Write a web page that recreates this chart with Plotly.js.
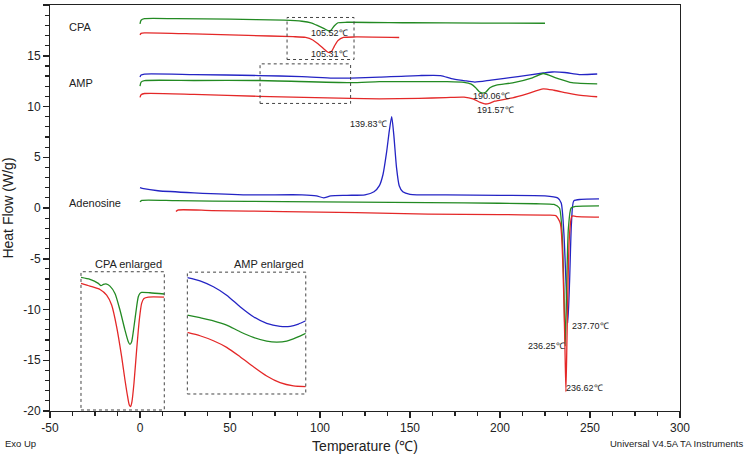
<!DOCTYPE html>
<html>
<head>
<meta charset="utf-8">
<script src="https://cdn.plot.ly/plotly-3.0.1.min.js"></script>
<style>html,body{margin:0;padding:0;background:#fff;}#chart{width:746px;height:454px;}</style>
</head>
<body>
<div id="chart"></div>
<script>
// ---------- Main chart data (Temperature in °C, Heat Flow in W/g) ----------
// CPA
const cpaGreenT = [0, 0.6, 2.5, 20, 50, 80, 90, 95, 99, 102, 104.5, 105.5, 106.5, 108, 110, 115, 150, 190, 225];
const cpaGreenV = [18.15, 18.5, 18.65, 18.65, 18.6, 18.5, 18.4, 18.25, 17.95, 17.7, 17.47, 17.42, 17.6, 17.95, 18.25, 18.3, 18.25, 18.22, 18.2];
const cpaRedT = [0, 0.6, 2.5, 30, 60, 85, 92, 96, 99, 102, 104, 105.3, 106.5, 108, 110, 113, 120, 144];
const cpaRedV = [17.05, 17.2, 17.25, 17.15, 17.0, 16.88, 16.8, 16.55, 16.15, 15.7, 15.4, 15.3, 15.45, 15.95, 16.5, 16.8, 16.85, 16.8];
// AMP
const ampBlueT = [0, 0.6, 2.5, 30, 66, 90, 107, 117, 133, 155, 167, 173, 180, 186, 195, 210, 224, 229, 236, 244, 254];
const ampBlueV = [12.9, 13.1, 13.2, 13.15, 13.05, 12.95, 12.8, 12.8, 12.9, 13.05, 13.05, 12.75, 12.55, 12.4, 12.6, 12.95, 13.3, 13.4, 13.35, 13.15, 13.2];
const ampGreenT = [0, 0.6, 2.5, 30, 66, 117, 133, 155, 170, 180, 184, 186.5, 188.5, 190.06, 192, 194.4, 198, 207, 218, 224, 231, 240, 254];
const ampGreenV = [12.0, 12.4, 12.55, 12.56, 12.56, 12.35, 12.45, 12.46, 12.45, 12.38, 12.2, 11.85, 11.45, 11.33, 11.4, 11.85, 12.1, 12.33, 12.83, 13.25, 12.83, 12.35, 12.23];
const ampRedT = [0, 0.6, 2.5, 30, 66, 117, 133, 155, 170, 180, 185, 189, 191.57, 194, 197, 207, 215, 224, 230, 237, 245, 254];
const ampRedV = [10.9, 11.15, 11.28, 11.2, 11.0, 10.8, 10.76, 10.8, 10.88, 10.92, 10.75, 10.4, 10.25, 10.3, 10.52, 10.86, 11.25, 11.74, 11.6, 11.35, 11.1, 10.96];
// Adenosine
const adnBlueT = [0, 2, 10, 30, 60, 90, 98, 102, 106, 115, 125, 130, 133, 135, 137, 138.5, 139.83, 141, 142.5, 144, 146, 150, 170, 200, 225, 232, 234, 235.5, 236.7, 237.7, 238.7, 239.7, 241, 245, 255];
const adnBlueV = [2.0, 1.9, 1.7, 1.5, 1.3, 1.3, 1.2, 1.0, 1.2, 1.25, 1.3, 1.6, 2.2, 3.3, 5.5, 7.6, 9.0, 7.2, 4.0, 2.2, 1.6, 1.35, 1.3, 1.25, 1.2, 1.0, 0.5, -2.5, -7.5, -11.3, -7.0, -1.5, 0.7, 0.85, 0.9];
const adnGreenT = [0, 1, 20, 60, 100, 140, 180, 220, 230, 233, 234.5, 235.5, 236.25, 237, 238, 239.5, 242, 255];
const adnGreenV = [0.6, 0.75, 0.72, 0.65, 0.6, 0.55, 0.5, 0.42, 0.35, 0.0, -2.5, -8, -13.6, -8, -2, 0.0, 0.15, 0.2];
const adnRedT = [20, 21, 40, 80, 120, 160, 200, 225, 231, 233.5, 235, 236, 236.62, 237.3, 238.5, 240, 243, 255];
const adnRedV = [-0.35, -0.2, -0.25, -0.35, -0.45, -0.6, -0.65, -0.7, -0.75, -1.5, -6, -13, -18.1, -12, -3, -0.8, -0.85, -0.9];

// ---------- Inset data (normalized 0-100 within each enlarged box) ----------
const cpaInsGreenX = [0, 10.8, 20.8, 24, 26.8, 30.8, 34.8, 40.8, 46.8, 52.8, 56.8, 58.8, 60.8, 63.6, 66.8, 68.8, 70.8, 72.8, 82.8, 100];
const cpaInsGreenY = [95.9, 94.5, 91.6, 89.9, 90.8, 91.1, 89.6, 84.3, 72.3, 57.8, 49.4, 47.5, 49.4, 60.2, 74.7, 81.9, 84.3, 85.1, 84.8, 83.9];
const cpaInsRedX = [0, 10.8, 22.8, 30.8, 36.8, 42.8, 48.8, 52.8, 56, 58, 59.6, 61.2, 63.6, 66.8, 70, 72.8, 75.6, 80.8, 100];
const cpaInsRedY = [91.6, 89.6, 87.2, 83.1, 75.9, 60.2, 38.6, 21.7, 9.6, 3.6, 2.4, 6.0, 19.3, 43.4, 65.1, 77.1, 80.7, 81.7, 81.7];
const ampInsX = [0, 10.7, 22, 33.2, 44.5, 55.8, 67, 78.3, 86.8, 93.8, 100];
const ampInsBlueY = [95.6, 92.9, 88, 81.1, 71.6, 63.4, 57.9, 55.5, 55.5, 57.4, 60.1];
const ampInsGreenX = [0, 10.7, 22, 33.2, 44.5, 55.8, 67, 75.5, 83.9, 92.4, 100];
const ampInsGreenY = [64.8, 62.6, 60.1, 56.6, 51.1, 46.4, 43.4, 42.6, 43.4, 46.4, 49.7];
const ampInsRedX = [0, 10.7, 22, 33.2, 44.5, 55.8, 67, 78.3, 89.6, 100];
const ampInsRedY = [50.5, 47.8, 43.7, 38.3, 30.6, 22.4, 14.8, 9.3, 6.6, 6.0];

// ---------- Tick labels ----------
const xTickVals = [-50, 0, 50, 100, 150, 200, 250, 300];
const xTickText = ["-50", "0", "50", "100", "150", "200", "250", "300"];
const yTickVals = [-20, -15, -10, -5, 0, 5, 10, 15, 20];
const yTickText = ["-20", "-15", "-10", "-5", "0", "5", "10", "15", "20"];

// ---------- Peak labels ----------
const peakLabels = ["105.52℃", "105.31℃", "190.06℃", "191.57℃", "139.83℃", "237.70℃", "236.25℃", "236.62℃"];
const peakLabelX = [105, 105, 195.4, 197.7, 127.1, 250, 226.1, 247.2];
const peakLabelY = [17.26, 15.19, 11.08, 9.7, 8.32, -11.58, -13.6, -17.7];
const sampleNames = ["CPA", "AMP", "Adenosine"];
const sampleNameY = [17.85, 12.27, 0.54];

const BLUE = '#2424c4', GREEN = '#238a23', RED = '#e42828';
const LW = 1.3;

function line(x, y, color, xa, ya) {
  return {x: x, y: y, type: 'scatter', mode: 'lines',
    line: {color: color, width: LW, shape: 'spline', smoothing: 0.6},
    xaxis: xa || 'x', yaxis: ya || 'y', hoverinfo: 'skip', showlegend: false};
}

const traces = [
  line(cpaGreenT, cpaGreenV, GREEN), line(cpaRedT, cpaRedV, RED),
  line(ampBlueT, ampBlueV, BLUE), line(ampGreenT, ampGreenV, GREEN), line(ampRedT, ampRedV, RED),
  line(adnBlueT, adnBlueV, BLUE), line(adnGreenT, adnGreenV, GREEN), line(adnRedT, adnRedV, RED),
  line(cpaInsGreenX, cpaInsGreenY, GREEN, 'x2', 'y2'), line(cpaInsRedX, cpaInsRedY, RED, 'x2', 'y2'),
  line(ampInsX, ampInsBlueY, BLUE, 'x3', 'y3'), line(ampInsGreenX, ampInsGreenY, GREEN, 'x3', 'y3'),
  line(ampInsRedX, ampInsRedY, RED, 'x3', 'y3')
];

const FONT = 'Liberation Sans, Arial, Helvetica, sans-serif';
const annotations = [];
peakLabels.forEach((t, i) => annotations.push({x: peakLabelX[i], y: peakLabelY[i], xref: 'x', yref: 'y',
  text: t, showarrow: false, font: {size: 9, color: '#222', family: FONT}}));
sampleNames.forEach((t, i) => annotations.push({x: -40.6, y: sampleNameY[i], xref: 'x', yref: 'y',
  text: t, showarrow: false, xanchor: 'left', font: {size: 11, color: '#222', family: FONT}}));
annotations.push({x: 1, y: 1, xref: 'x2 domain', yref: 'y2 domain', xanchor: 'right', yanchor: 'bottom',
  text: 'CPA enlarged', showarrow: false, font: {size: 11, color: '#222', family: FONT}});
annotations.push({x: 1, y: 1, xref: 'x3 domain', yref: 'y3 domain', xanchor: 'right', yanchor: 'bottom',
  text: 'AMP enlarged', showarrow: false, font: {size: 11, color: '#222', family: FONT}});
annotations.push({x: 0, y: 0, xref: 'paper', yref: 'paper', xanchor: 'left', yanchor: 'middle',
  xshift: -47, yshift: -32, text: 'Exo Up', showarrow: false, font: {size: 9.5, color: '#222', family: FONT}});
annotations.push({x: 1, y: 0, xref: 'paper', yref: 'paper', xanchor: 'right', yanchor: 'middle',
  xshift: 65, yshift: -32, text: 'Universal V4.5A TA Instruments', showarrow: false, font: {size: 9.5, color: '#222', family: FONT}});

const dotBox = {type: 'rect', line: {color: '#444', width: 1, dash: 'dot'}, fillcolor: 'rgba(0,0,0,0)'};
const shapes = [
  Object.assign({}, dotBox, {xref: 'x', yref: 'y', x0: 81.7, x1: 118.9, y0: 14.63, y1: 18.77}),
  Object.assign({}, dotBox, {xref: 'x', yref: 'y', x0: 66.7, x1: 117, y0: 10.3, y1: 14.2}),
  Object.assign({}, dotBox, {xref: 'x2 domain', yref: 'y2 domain', x0: 0, x1: 1, y0: 0, y1: 1}),
  Object.assign({}, dotBox, {xref: 'x3 domain', yref: 'y3 domain', x0: 0, x1: 1, y0: 0, y1: 1})
];

const hidden = {range: [0, 100], visible: false, fixedrange: true};
const layout = {
  width: 746, height: 454,
  margin: {l: 50, r: 66, t: 5, b: 43},
  paper_bgcolor: '#fff', plot_bgcolor: '#fff',
  font: {family: FONT, color: '#222', size: 12},
  showlegend: false,
  xaxis: {range: [-50, 300], tickmode: 'array', tickvals: xTickVals, ticktext: xTickText,
    ticks: 'outside', ticklen: 6, tickcolor: '#222', tickwidth: 1.5,
    showline: true, mirror: true, linecolor: '#222', linewidth: 1, showgrid: false, zeroline: false,
    minor: {dtick: 12.5, tick0: 0, ticks: 'outside', ticklen: 4, tickcolor: '#222', tickwidth: 1.2, showgrid: false},
    tickfont: {size: 12}, title: {text: 'Temperature (℃)', font: {size: 14}, standoff: 6}},
  yaxis: {range: [-20, 20], tickmode: 'array', tickvals: yTickVals, ticktext: yTickText,
    ticks: 'outside', ticklen: 6, tickcolor: '#222', tickwidth: 1.5,
    showline: true, mirror: true, linecolor: '#222', linewidth: 1, showgrid: false, zeroline: false,
    minor: {dtick: 1, tick0: 0, ticks: 'outside', ticklen: 4, tickcolor: '#222', tickwidth: 1.2, showgrid: false},
    tickfont: {size: 12}, title: {text: 'Heat Flow (W/g)', font: {size: 14}, standoff: 12}},
  xaxis2: Object.assign({}, hidden, {domain: [0.0492, 0.1814], anchor: 'y2'}),
  yaxis2: Object.assign({}, hidden, {domain: [0.0025, 0.343], anchor: 'x2'}),
  xaxis3: Object.assign({}, hidden, {domain: [0.218, 0.406], anchor: 'y3'}),
  yaxis3: Object.assign({}, hidden, {domain: [0.0419, 0.342], anchor: 'x3'}),
  annotations: annotations,
  shapes: shapes
};

Plotly.newPlot('chart', traces, layout, {staticPlot: true, displayModeBar: false});
</script>
</body>
</html>
